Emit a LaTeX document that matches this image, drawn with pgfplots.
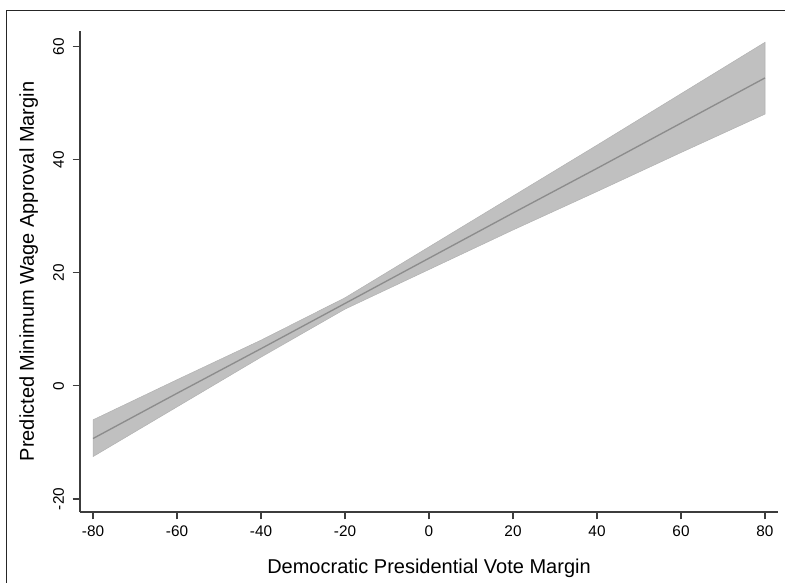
\documentclass[border=0pt]{standalone}
\usepackage{fontspec}
\setmainfont{Liberation Sans}
\usepackage{pgfplots}
\usepackage{pgfplotstable}
\pgfplotsset{compat=1.18}

\definecolor{bandfill}{RGB}{192,192,192}
\definecolor{bandedge}{RGB}{178,178,178}
\definecolor{fitline}{RGB}{140,140,140}
\definecolor{axisgray}{RGB}{60,60,60}

% predicted margin at each vote-margin value
\pgfplotstableread{
x    fit
-80  -9.3
-60  -1.3
-40   6.6
-20  14.6
0    22.6
20   30.6
40   38.5
60   46.5
80   54.5
}\pred

% 95% interval outline: upper bound left to right, lower bound right to left
\pgfplotstableread{
x    y
-80  -6.0
-60   1.1
-40   8.1
-20  15.6
0    24.6
20   33.6
40   42.6
60   51.7
80   60.8
80   48.1
60   41.3
40   34.4
20   27.6
0    20.6
-20  13.6
-40   5.1
-60  -3.7
-80 -12.5
}\band

\begin{document}
\begin{tikzpicture}
\useasboundingbox (0pt,0pt) rectangle (588.75pt,436.5pt);
% outer graph region frame
\draw[line width=0.6pt, black!85] (4.9pt,-5pt) -- (4.9pt,429pt) -- (595pt,429pt);
\begin{axis}[
  at={(60pt,52.5pt)}, anchor=south west,
  scale only axis,
  width=523.5pt, height=360.75pt,
  xmin=-83.1, xmax=83.1,
  ymin=-22.3, ymax=62.8,
  axis x line*=bottom, axis y line*=left,
  axis line style={axisgray, line width=0.8pt, -},
  xtick={-80,-60,...,80},
  ytick={-20,0,20,40,60},
  tick align=outside,
  major tick length=5.5pt,
  tick style={axisgray, line width=0.8pt},
  /pgf/number format/assume math mode=true,
  ticklabel style={font=\fontsize{11.5}{13}\selectfont},
  xticklabel style={yshift=-1pt},
  yticklabel style={rotate=90, anchor=south},
  yticklabel shift=3pt,
  xlabel={Democratic Presidential Vote Margin},
  ylabel={Predicted Minimum Wage Approval Margin},
  label style={font=\fontsize{15}{17}\selectfont},
  xlabel style={yshift=-10pt},
  ylabel style={yshift=4.5pt},
  clip=false,
]
\addplot[fill=bandfill, draw=bandedge, line width=0.4pt] table[x=x, y=y] {\band} -- cycle;
\addplot[fitline, line width=1pt] table[x=x, y=fit] {\pred};
\end{axis}
\end{tikzpicture}
\end{document}
